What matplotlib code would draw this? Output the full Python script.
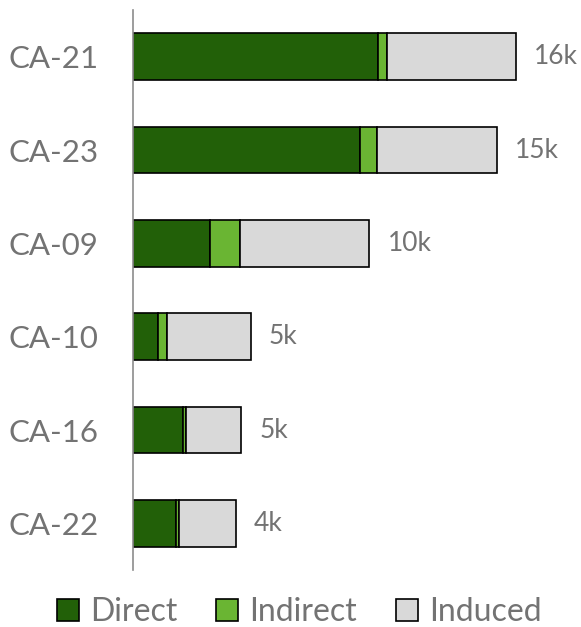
import matplotlib
matplotlib.use("Agg")
import matplotlib.pyplot as plt
import numpy as np

categories = ["CA-21", "CA-23", "CA-09", "CA-10", "CA-16", "CA-22"]
direct = [10.2, 9.45, 3.2, 1.05, 2.1, 1.8]
indirect = [0.4, 0.7, 1.25, 0.35, 0.12, 0.1]
induced = [5.35, 5.0, 5.4, 3.5, 2.3, 2.4]
value_labels = ["16k", "15k", "10k", "5k", "5k", "4k"]
series_names = ["Direct", "Indirect", "Induced"]
colors = ["#226008", "#6ab533", "#d9d9d9"]

plt.rcParams['font.family'] = ['Lato', 'DejaVu Sans']
fig = plt.figure(figsize=(5.81, 6.27), dpi=100)
ax = fig.add_axes([133/581, 1-570/627, 432/581, 560/627])

y = np.arange(len(categories))
left = np.zeros(len(categories))
for vals, name, c in zip([direct, indirect, induced], series_names, colors):
    ax.barh(y, vals, left=left, height=0.5, color=c, edgecolor="black",
            linewidth=1.2, label=name)
    left = left + np.array(vals)

for yi, tot, lab in zip(y, left, value_labels):
    ax.text(tot + 0.75, yi, lab, va="center", ha="left", fontsize=19, color="#737373")

ax.set_xlim(0, 18)
ax.set_ylim(len(categories) - 0.5, -0.5)
ax.set_yticks(y)
ax.set_yticklabels(categories, fontsize=22.5, color="#737373")
ax.tick_params(axis="y", length=0, pad=25)
ax.set_xticks([])
for s in ["top", "right", "bottom"]:
    ax.spines[s].set_visible(False)
ax.spines["left"].set_color("#8c8c8c")
ax.spines["left"].set_linewidth(1.2)

leg = fig.legend(loc="center", bbox_to_anchor=(0.515, 1-612/627), ncol=3, frameon=False,
                 fontsize=23, handlelength=0.7, handleheight=0.7, handletextpad=0.35,
                 columnspacing=1.2, labelcolor="#737373")

fig.savefig("out.png", dpi=100)
